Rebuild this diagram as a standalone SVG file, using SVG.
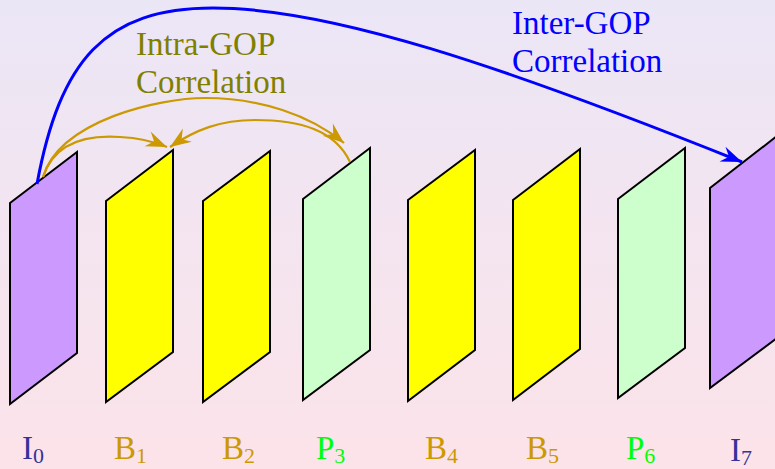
<svg xmlns="http://www.w3.org/2000/svg" width="775" height="469" viewBox="0 0 775 469">
<defs>
<linearGradient id="bg" x1="0" y1="0" x2="0" y2="1">
<stop offset="0" stop-color="#ebe6f6"/>
<stop offset="1" stop-color="#fce3e9"/>
</linearGradient>
<marker id="ag" markerUnits="userSpaceOnUse" markerWidth="26" markerHeight="20" viewBox="-22 -10 24 20" refX="0" refY="0" orient="auto">
<path d="M0,0 L-21,-8 L-14,0 L-21,8 Z" fill="#cc9900"/>
</marker>
<marker id="ab" markerUnits="userSpaceOnUse" markerWidth="26" markerHeight="20" viewBox="-22 -10 24 20" refX="0" refY="0" orient="auto">
<path d="M0,0 L-21,-8 L-14,0 L-21,8 Z" fill="#0000ff"/>
</marker>
<style>
.fr{stroke:#000;stroke-width:2;stroke-linejoin:miter}
.i{fill:#cc99ff}.b{fill:#ffff00}.p{fill:#ccffcc}
text{font-family:"Liberation Serif","Times New Roman",serif}
.lab{font-size:33px}
.sub{font-size:22px}
.li{fill:#333399}.lb{fill:#cc9900}.lp{fill:#00ff00}
.gold{fill:none;stroke:#cc9900;stroke-width:2.2}
.blue{fill:none;stroke:#0000ff;stroke-width:3}
</style>
</defs>
<rect width="775" height="469" fill="url(#bg)"/>
<g id="I0"><polygon class="fr i" points="10,203 77,152 77,353 10,404"/></g>
<g id="B1"><polygon class="fr b" points="106,201 173,150 173,352 106,402"/></g>
<g id="B2"><polygon class="fr b" points="203,201 270,151 270,352 203,402"/></g>
<g id="P3"><polygon class="fr p" points="303,199 370,148 370,350 303,400"/></g>
<g id="B4"><polygon class="fr b" points="408,200 475,150 475,350 408,401"/></g>
<g id="B5"><polygon class="fr b" points="513,200 580,149 580,349 513,400"/></g>
<g id="P6"><polygon class="fr p" points="618,199 685,148 685,348 618,398"/></g>
<g id="I7"><polygon class="fr i" points="710,188 777,136 777,338 710,388"/></g>
<g id="connectors">
<path class="blue" marker-end="url(#ab)" d="M37,184 C60,60 105,8 213,8 C330,8 500,65 742,162"/>
<path class="gold" marker-end="url(#ag)" d="M43,177 C60,120 160,98 205,98 C260,98 310,115 344,143"/>
<path class="gold" marker-end="url(#ag)" d="M43,177 C55,140 90,135 120,137 C140,138 155,142 167,147"/>
<path class="gold" marker-end="url(#ag)" d="M350,162 C335,130 300,120 255,120 C220,120 195,130 170,147"/>
</g>
<g id="texts">
<text x="136" y="55" font-size="33" fill="#808000">Intra-GOP</text>
<text x="136" y="93" font-size="33" fill="#808000">Correlation</text>
<text x="512" y="34" font-size="33" fill="#0000ff">Inter-GOP</text>
<text x="512" y="72" font-size="33" fill="#0000ff">Correlation</text>
<text class="lab li" x="22" y="459">I<tspan class="sub" dy="4">0</tspan></text>
<text class="lab lb" x="114" y="459">B<tspan class="sub" dy="4">1</tspan></text>
<text class="lab lb" x="222" y="459">B<tspan class="sub" dy="4">2</tspan></text>
<text class="lab lp" x="316" y="459">P<tspan class="sub" dy="4">3</tspan></text>
<text class="lab lb" x="425" y="459">B<tspan class="sub" dy="4">4</tspan></text>
<text class="lab lb" x="526" y="459">B<tspan class="sub" dy="4">5</tspan></text>
<text class="lab lp" x="626" y="459">P<tspan class="sub" dy="4">6</tspan></text>
<text class="lab li" x="730" y="461">I<tspan class="sub" dy="4">7</tspan></text>
</g>
</svg>
